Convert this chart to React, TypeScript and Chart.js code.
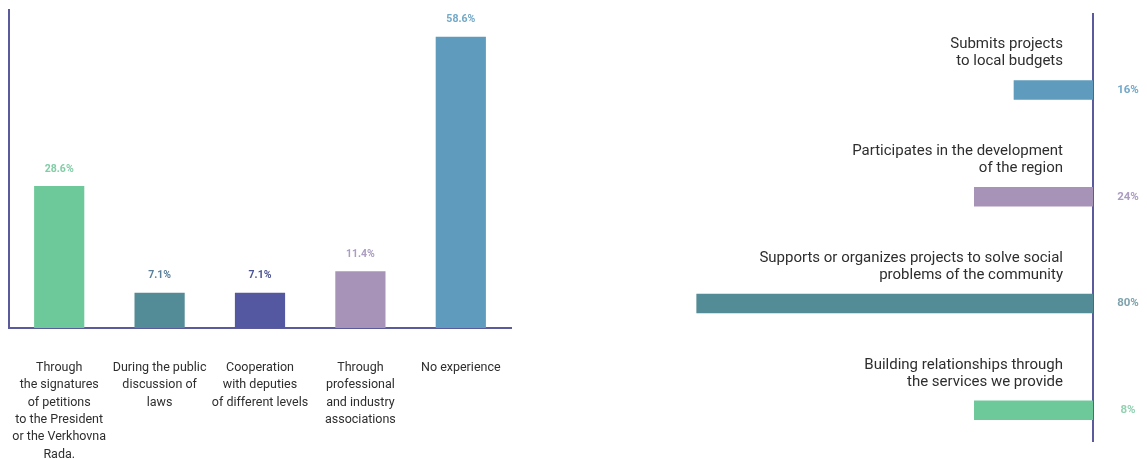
import React, { useEffect, useRef } from "react";
import { Chart, registerables } from "chart.js";

Chart.register(...registerables);

// ---------- Left chart data ----------
const leftCategories: string[][] = [
  ["Through", "the signatures", "of petitions", "to the President", "or the Verkhovna", "Rada."],
  ["During the public", "discussion of", "laws"],
  ["Cooperation", "with deputies", "of different levels"],
  ["Through", "professional", "and industry", "associations"],
  ["No experience"],
];
const leftValues: number[] = [28.6, 7.1, 7.1, 11.4, 58.6];
const leftValueLabels: string[] = ["28.6%", "7.1%", "7.1%", "11.4%", "58.6%"];
const leftBarColors: string[] = ["#6ec99a", "#538c96", "#5458a0", "#a893b8", "#5f9bbd"];
const leftLabelColors: string[] = ["#82cda6", "#5a7f99", "#4d5493", "#ab9cc2", "#72a8c8"];

// ---------- Right chart data ----------
const rightCategories: string[][] = [
  ["Submits projects", "to local budgets"],
  ["Participates in the development", "of the region"],
  ["Supports or organizes projects to solve social", "problems of the community"],
  ["Building relationships through", "the services we provide"],
];
// bar lengths as drawn in the picture
const rightBarLengths: number[] = [16, 24, 80, 24];
const rightValueLabels: string[] = ["16%", "24%", "80%", "8%"];
const rightBarColors: string[] = ["#5f9bbd", "#a893b8", "#538c96", "#6ec99a"];
const rightLabelColors: string[] = ["#72a8c8", "#ab9cc2", "#7ea3ae", "#93d1b2"];

const AXIS_COLOR = "#5a5a9c";
const TEXT_COLOR = "#2e2e2e";
const FONT = "Roboto, 'Noto Sans', sans-serif";

function LeftChart() {
  const ref = useRef<HTMLCanvasElement | null>(null);
  useEffect(() => {
    if (!ref.current) return;
    const textPlugin = {
      id: "leftTexts",
      afterDatasetsDraw(chart: any) {
        const ctx = chart.ctx;
        const meta = chart.getDatasetMeta(0);
        const area = chart.chartArea;
        ctx.save();
        ctx.textAlign = "center";
        ctx.textBaseline = "middle";
        meta.data.forEach((bar: any, i: number) => {
          ctx.font = `bold 10.5px ${FONT}`;
          ctx.fillStyle = leftLabelColors[i];
          ctx.fillText(leftValueLabels[i], bar.x, bar.y - 17);
          ctx.font = `12.5px ${FONT}`;
          ctx.fillStyle = TEXT_COLOR;
          leftCategories[i].forEach((line, j) => {
            ctx.fillText(line, bar.x, area.bottom + 40 + j * 17.3);
          });
        });
        ctx.restore();
      },
    };
    const chart = new Chart(ref.current, {
      type: "bar",
      data: {
        labels: leftCategories.map((c) => c.join(" ")),
        datasets: [
          {
            data: leftValues,
            backgroundColor: leftBarColors,
            borderWidth: 0,
            barPercentage: 0.5,
            categoryPercentage: 1,
          },
        ],
      },
      options: {
        animation: false,
        responsive: false,
        maintainAspectRatio: false,
        layout: { padding: { left: 9, top: 10, right: 109, bottom: 131 } },
        plugins: { legend: { display: false }, tooltip: { enabled: false } },
        scales: {
          x: {
            grid: { display: false, drawTicks: false, tickLength: 0 },
            border: { display: true, color: AXIS_COLOR, width: 2 },
            ticks: { display: false },
          },
          y: {
            min: 0,
            max: 64,
            grid: { display: false, drawTicks: false, tickLength: 0 },
            border: { display: true, color: AXIS_COLOR, width: 2 },
            ticks: { display: false },
          },
        },
      },
      plugins: [textPlugin],
    });
    return () => chart.destroy();
  }, []);
  return <canvas ref={ref} width={620} height={459} style={{ display: "block" }} />;
}

function RightChart() {
  const ref = useRef<HTMLCanvasElement | null>(null);
  useEffect(() => {
    if (!ref.current) return;
    const textPlugin = {
      id: "rightTexts",
      afterDatasetsDraw(chart: any) {
        const ctx = chart.ctx;
        const meta = chart.getDatasetMeta(1);
        const area = chart.chartArea;
        ctx.save();
        meta.data.forEach((bar: any, i: number) => {
          ctx.font = `15px ${FONT}`;
          ctx.fillStyle = TEXT_COLOR;
          ctx.textAlign = "right";
          ctx.textBaseline = "middle";
          rightCategories[i].forEach((line, j) => {
            ctx.fillText(line, area.right - 30, bar.y - 45.5 + j * 17);
          });
          ctx.font = `bold 11.5px ${FONT}`;
          ctx.textAlign = "center";
          ctx.fillStyle = rightLabelColors[i];
          ctx.fillText(rightValueLabels[i], area.right + 35, bar.y);
        });
        ctx.restore();
      },
    };
    const chart = new Chart(ref.current, {
      type: "bar",
      data: {
        labels: rightCategories.map((c) => c.join(" ")),
        datasets: [
          {
            data: rightCategories.map(() => null) as any,
            backgroundColor: "transparent",
            categoryPercentage: 0.85,
            barPercentage: 0.43,
          },
          {
            data: rightBarLengths,
            backgroundColor: rightBarColors,
            borderWidth: 0,
            categoryPercentage: 0.85,
            barPercentage: 0.43,
          },
        ],
      },
      options: {
        indexAxis: "y",
        animation: false,
        responsive: false,
        maintainAspectRatio: false,
        layout: { padding: { left: 22, top: 14, right: 54, bottom: 18 } },
        plugins: { legend: { display: false }, tooltip: { enabled: false } },
        scales: {
          x: {
            type: "linear",
            min: 0,
            max: 95,
            reverse: true,
            display: false,
          },
          y: {
            position: "right",
            grid: { display: false, drawTicks: false, tickLength: 0 },
            border: { display: true, color: AXIS_COLOR, width: 2 },
            ticks: { display: false },
          },
        },
      },
      plugins: [textPlugin],
    });
    return () => chart.destroy();
  }, []);
  return <canvas ref={ref} width={547} height={459} style={{ display: "block" }} />;
}

export default function App() {
  return (
    <div
      style={{
        position: "fixed",
        left: 0,
        top: 0,
        width: 1147,
        height: 459,
        background: "#ffffff",
      }}
    >
      <div style={{ position: "absolute", left: 0, top: 0, width: 620, height: 459 }}>
        <LeftChart />
      </div>
      <div style={{ position: "absolute", left: 600, top: 0, width: 547, height: 459 }}>
        <RightChart />
      </div>
    </div>
  );
}
